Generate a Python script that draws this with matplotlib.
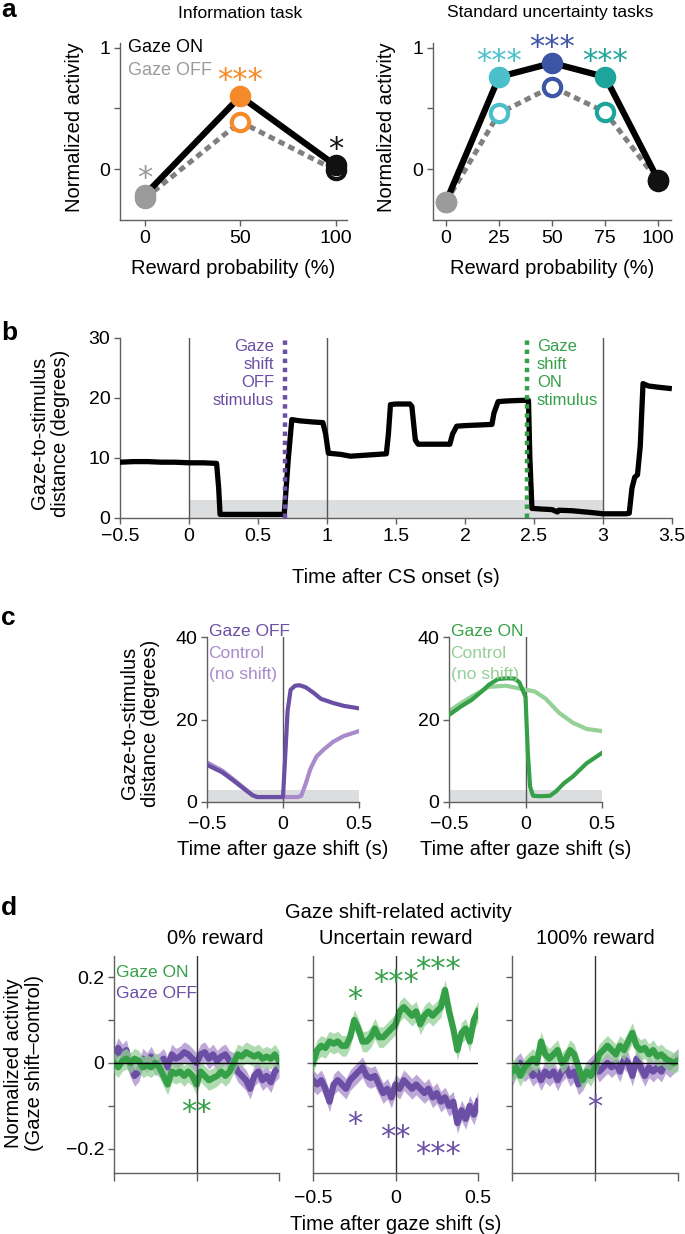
import matplotlib
matplotlib.use('Agg')
import matplotlib.pyplot as plt
from matplotlib.transforms import offset_copy
import numpy as np

plt.rcParams['font.family'] = ['Liberation Sans', 'DejaVu Sans']
plt.rcParams['axes.unicode_minus'] = True

# ---------------- data ----------------
# panel a
info_prob = [0, 50, 100]
info_on = [-0.21, 0.60, 0.03]
info_off = [-0.24, 0.39, -0.01]
info_colors = ['#9b9b9d', '#f58a2a', '#111111']
info_stars = ['*', '***', '*']

std_prob = [0, 25, 50, 75, 100]
std_on = [-0.27, 0.76, 0.875, 0.76, -0.09]
std_off = [-0.27, 0.46, 0.68, 0.47, -0.10]
std_colors = ['#9b9b9d', '#4bbfca', '#3c55a5', '#1ea59b', '#111111']
std_stars = ['', '***', '***', '***', '']

# panel b
cs_time = [-0.5, -0.4, -0.3, -0.2, -0.1, 0.0, 0.1, 0.2, 0.215, 0.225, 0.3, 0.4, 0.5, 0.6, 0.69,
           0.72, 0.745, 0.8, 0.9, 0.97, 0.99, 1.01, 1.1, 1.17, 1.3, 1.43, 1.445, 1.46, 1.5, 1.6,
           1.615, 1.64, 1.66, 1.75, 1.89, 1.91, 1.94, 2.0, 2.1, 2.195, 2.21, 2.24, 2.3, 2.4,
           2.46, 2.47, 2.485, 2.55, 2.63, 2.67, 2.68, 2.78, 2.92, 3.0, 3.17, 3.19, 3.21, 3.23,
           3.25, 3.27, 3.29, 3.33, 3.4, 3.48]
cs_dist = [9.3, 9.4, 9.4, 9.3, 9.3, 9.2, 9.2, 9.1, 5.0, 0.6, 0.6, 0.6, 0.6, 0.6, 0.6,
           10.0, 16.4, 16.2, 16.0, 15.9, 14.0, 10.8, 10.6, 10.3, 10.5, 10.7, 14.0, 18.9, 19.0, 19.0,
           18.6, 13.0, 12.3, 12.3, 12.3, 14.0, 15.3, 15.4, 15.5, 15.6, 17.5, 19.4, 19.5, 19.6,
           19.6, 10.0, 1.6, 1.5, 1.4, 1.0, 1.3, 1.2, 0.9, 0.7, 0.7, 0.8, 5.0, 6.8,
           7.2, 12.0, 22.4, 22.0, 21.8, 21.6]
b_event_times = [0, 1, 3]
gaze_off_time = 0.696
gaze_on_time = 2.45
fix_window = 3.0
fix_window_end = 3.0

# panel c
c_off_t = [-0.5, -0.4, -0.33, -0.25, -0.2, -0.17, -0.1, 0.0, 0.01, 0.03, 0.05, 0.08, 0.11, 0.15,
           0.2, 0.25, 0.33, 0.4, 0.5]
c_off_v = [9.0, 7.2, 5.3, 3.0, 1.6, 1.2, 1.2, 1.2, 8.0, 22.0, 27.2, 28.2, 28.3, 27.8,
           26.5, 25.0, 24.0, 23.3, 22.7]
c_offctl_t = [-0.5, -0.4, -0.33, -0.25, -0.2, -0.17, -0.1, 0.0, 0.1, 0.12, 0.15, 0.18, 0.22,
              0.27, 0.33, 0.4, 0.5]
c_offctl_v = [9.6, 7.6, 5.6, 3.2, 1.7, 1.2, 1.2, 1.2, 1.2, 1.5, 4.5, 8.0, 11.0,
              12.8, 14.6, 16.0, 17.2]
c_on_t = [-0.5, -0.42, -0.35, -0.28, -0.24, -0.18, -0.12, -0.07, -0.04, 0.0, 0.015, 0.03,
          0.05, 0.1, 0.16, 0.2, 0.25, 0.31, 0.4, 0.5]
c_on_v = [21.1, 23.2, 24.8, 27.0, 28.4, 29.8, 30.0, 29.9, 29.0, 25.5, 12.0, 3.7,
          1.5, 1.4, 1.5, 2.6, 4.5, 6.2, 9.4, 11.9]
c_onctl_t = [-0.5, -0.42, -0.35, -0.24, -0.13, -0.05, 0.06, 0.13, 0.22, 0.31, 0.4, 0.5]
c_onctl_v = [22.0, 24.0, 25.6, 27.9, 28.2, 27.6, 26.8, 25.1, 21.6, 19.2, 17.7, 17.2]

# panel d
d_time = np.linspace(-0.5, 0.5, 41)
d_sem = 0.024
d0_on = [0.0, -0.01, 0.005, 0.01, 0.0, 0.01, 0.005, -0.01, -0.005, -0.01, 0.0, -0.01, -0.03,
         -0.05, -0.02, -0.025, -0.02, -0.03, -0.02, -0.03, -0.05, -0.02, -0.03, -0.04, -0.035,
         -0.03, -0.02, -0.03, -0.02, 0.0, 0.02, 0.015, 0.025, 0.02, 0.015, 0.02, 0.01, 0.015,
         0.01, 0.02, 0.005]
d0_off = [0.01, 0.035, 0.02, 0.03, -0.01, -0.03, -0.02, 0.01, 0.0, 0.015, -0.005, 0.0, 0.01,
          -0.01, 0.02, 0.01, 0.015, 0.025, 0.02, 0.01, 0.0, 0.02, 0.025, 0.01, 0.02, 0.005,
          0.015, 0.02, 0.005, 0.0, -0.02, -0.03, -0.04, -0.06, -0.03, -0.02, -0.04, -0.03,
          -0.045, -0.02, -0.01]
dU_on = [0.0, 0.03, 0.04, 0.035, 0.05, 0.045, 0.05, 0.04, 0.04, 0.06, 0.1, 0.08, 0.05, 0.05,
         0.06, 0.08, 0.06, 0.06, 0.07, 0.08, 0.09, 0.12, 0.13, 0.12, 0.11, 0.12, 0.09, 0.11,
         0.12, 0.11, 0.12, 0.13, 0.17, 0.12, 0.08, 0.03, 0.07, 0.08, 0.05, 0.10, 0.12]
dU_off = [-0.04, -0.05, -0.04, -0.06, -0.09, -0.05, -0.04, -0.05, -0.06, -0.04, -0.03, -0.02,
          -0.01, -0.03, -0.035, -0.03, -0.05, -0.07, -0.06, -0.08, -0.05, -0.06, -0.04, -0.05,
          -0.06, -0.05, -0.06, -0.07, -0.06, -0.08, -0.07, -0.09, -0.08, -0.10, -0.09, -0.14,
          -0.11, -0.13, -0.10, -0.12, -0.09]
d100_on = [-0.02, -0.01, -0.03, -0.01, 0.0, 0.01, 0.0, 0.05, 0.02, 0.01, 0.02, 0.03, 0.0,
           0.01, 0.03, 0.02, -0.01, -0.04, -0.02, -0.03, -0.01, 0.02, 0.03, 0.04, 0.03, 0.02,
           0.04, 0.03, 0.05, 0.07, 0.04, 0.03, 0.035, 0.02, 0.03, 0.015, 0.02, 0.01, 0.005,
           0.0, 0.005]
d100_off = [-0.03, -0.01, 0.0, -0.02, -0.01, -0.03, -0.02, -0.04, -0.02, -0.03, -0.02, -0.04,
            -0.02, -0.01, -0.03, -0.02, -0.05, -0.04, -0.02, -0.01, 0.0, -0.02, -0.01, 0.0,
            -0.01, 0.0, -0.02, 0.01, 0.0, -0.03, 0.01, -0.01, -0.03, -0.01, -0.02, -0.01, -0.02,
            0.0, -0.01, 0.0, 0.01]
d_titles = ['0% reward', 'Uncertain reward', '100% reward']
d0_on_stars = [('**', 0.0, -0.092)]
dU_on_stars = [('*', -0.25, 0.17), ('***', 0.0, 0.21), ('***', 0.26, 0.24)]
dU_off_stars = [('*', -0.25, -0.12), ('**', 0.0, -0.15), ('***', 0.26, -0.19)]
d100_off_stars = [('*', 0.0, -0.08)]

# ---------------- style ----------------
GREEN = '#36a048'
PURPLE = '#6a4fa5'
LGREEN = '#95d096'
LPURPLE = '#a98bcb'
SPINE = '#606060'
TICK_FS = 14
LAB_FS = 14.5
STAR_FS = 22

W, H = 685, 1234
fig = plt.figure(figsize=(W / 100, H / 100), dpi=100)


def add_ax(l, t, r, b):
    ax = fig.add_axes([l / W, 1 - b / H, (r - l) / W, (b - t) / H])
    for s in ['top', 'right']:
        ax.spines[s].set_visible(False)
    for s in ['left', 'bottom']:
        ax.spines[s].set_color(SPINE)
        ax.spines[s].set_linewidth(1.0)
    ax.tick_params(direction='out', length=4, width=1, color=SPINE,
                   labelsize=TICK_FS, pad=3)
    ax.patch.set_alpha(0)
    return ax


def ftext(x, y, s, **kw):
    fig.text(x / W, 1 - y / H, s, **kw)


def star_text(ax, x, y, s, color, fs=STAR_FS):
    # place the asterisk glyph centre (not the text box centre) at (x, y)
    tr = offset_copy(ax.transData, fig=fig, x=0, y=-0.6 * fs, units='points')
    ax.text(x, y, s, color=color, fontsize=fs, ha='center', va='baseline',
            family='DejaVu Sans', transform=tr, zorder=6, clip_on=False)


# ---------------- panel a ----------------
def panel_a(ax, prob, on, off, colors, stars, xticks):
    ax.plot(prob, off, color='#808080', lw=3.6, ls=(0, (1.3, 0.9)), zorder=2,
            solid_capstyle='butt', dash_capstyle='butt')
    ax.plot(prob, on, color='black', lw=4.5, zorder=3)
    for p, v, c in zip(prob, off, colors):
        ax.plot(p, v, 'o', ms=12.5, mfc='white', mec=c, mew=3, zorder=4)
    for p, v, c in zip(prob, on, colors):
        ax.plot(p, v, 'o', ms=14.5, mfc=c, mec=c, zorder=5)
    for p, v, c, s in zip(prob, on, colors, stars):
        if s:
            star_text(ax, p, v + 0.21, s, c)
    ax.set_ylim(-0.42, 1.04)
    ax.set_yticks([0, 0.5, 1])
    ax.set_yticklabels(['0', '', '1'])
    ax.set_xticks(xticks)
    ax.set_xticklabels([str(x) for x in xticks])
    ax.set_xlabel('Reward probability (%)', fontsize=LAB_FS, labelpad=9)


ax_a1 = add_ax(120, 43, 347, 220)
panel_a(ax_a1, info_prob, info_on, info_off, info_colors, info_stars, [0, 50, 100])
ax_a1.set_xlim(-13.2, 106)
ax_a1.text(-9, 1.0, 'Gaze ON', color='black', fontsize=13, va='center', ha='left')
ax_a1.text(-9, 0.81, 'Gaze OFF', color='#9b9b9d', fontsize=13, va='center', ha='left')

ax_a2 = add_ax(433, 43, 671, 220)
panel_a(ax_a2, std_prob, std_on, std_off, std_colors, std_stars, [0, 25, 50, 75, 100])
ax_a2.set_xlim(-6.1, 106)

ftext(240, 13, 'Information task', fontsize=12.5, ha='center', va='center')
ftext(550, 13, 'Standard uncertainty tasks', fontsize=12.5, ha='center', va='center')
ftext(75, 127, 'Normalized activity', fontsize=LAB_FS, rotation=90, ha='center', va='center')
ftext(386, 127, 'Normalized activity', fontsize=LAB_FS, rotation=90, ha='center', va='center')

# ---------------- panel b ----------------
ax_b = add_ax(120, 338, 672, 518)
ax_b.set_xlim(-0.5, 3.5)
ax_b.set_ylim(0, 30)
ax_b.fill_between([0, fix_window_end], 0, fix_window, color='#dcdddf', lw=0, zorder=0)
for t in b_event_times:
    ax_b.axvline(t, color='#555555', lw=1.0, zorder=1)
ax_b.plot(cs_time, cs_dist, color='black', lw=3.8, zorder=3, solid_joinstyle='round')
ax_b.plot([gaze_off_time, gaze_off_time], [0, 30], color=PURPLE, lw=3.2,
          ls=(0, (1, 1.05)), zorder=4)
ax_b.plot([gaze_on_time, gaze_on_time], [0, 30], color=GREEN, lw=3.2,
          ls=(0, (1, 1.05)), zorder=4)
ax_b.text(gaze_off_time - 0.08, 29.8, 'Gaze\nshift\nOFF\nstimulus', color=PURPLE,
          fontsize=12, ha='right', va='top', linespacing=1.25)
ax_b.text(gaze_on_time + 0.07, 29.8, 'Gaze\nshift\nON\nstimulus', color=GREEN,
          fontsize=12, ha='left', va='top', linespacing=1.25)
ax_b.set_yticks([0, 10, 20, 30])
bx = [-0.5, 0, 0.5, 1, 1.5, 2, 2.5, 3, 3.5]
ax_b.set_xticks(bx)
ax_b.set_xticklabels(['\u22120.5', '0', '0.5', '1', '1.5', '2', '2.5', '3', '3.5'])
ax_b.set_xlabel('Time after CS onset (s)', fontsize=LAB_FS, labelpad=17)
ftext(50, 433, 'Gaze-to-stimulus\ndistance (degrees)', fontsize=LAB_FS, rotation=90,
      ha='center', va='center', linespacing=1.15)


# ---------------- panel c ----------------
def panel_c(ax, shift_t, shift_v, ctl_t, ctl_v, dark, light, label):
    ax.set_xlim(-0.5, 0.5)
    ax.set_ylim(0, 40)
    ax.fill_between([-0.5, 0.5], 0, fix_window, color='#dcdddf', lw=0, zorder=0)
    ax.axvline(0, color='#555555', lw=1.0, zorder=1)
    ax.plot(ctl_t, ctl_v, color=light, lw=3.0, zorder=2)
    ax.plot(shift_t, shift_v, color=dark, lw=3.0, zorder=3)
    ax.text(-0.49, 41.3, label, color=dark, fontsize=12.5, ha='left', va='center')
    ax.text(-0.49, 36.0, 'Control', color=light, fontsize=12.5, ha='left', va='center')
    ax.text(-0.49, 30.9, '(no shift)', color=light, fontsize=12.5, ha='left', va='center')
    ax.set_yticks([0, 20, 40])
    ax.set_xticks([-0.5, 0, 0.5])
    ax.set_xticklabels(['\u22120.5', '0', '0.5'])
    ax.tick_params(axis='x', pad=6)
    ax.set_xlabel('Time after gaze shift (s)', fontsize=LAB_FS, labelpad=5)


ax_c1 = add_ax(207, 637, 359, 802)
panel_c(ax_c1, c_off_t, c_off_v, c_offctl_t, c_offctl_v, PURPLE, LPURPLE, 'Gaze OFF')
ax_c2 = add_ax(449, 637, 602, 802)
panel_c(ax_c2, c_on_t, c_on_v, c_onctl_t, c_onctl_v, GREEN, LGREEN, 'Gaze ON')
ftext(140, 723, 'Gaze-to-stimulus\ndistance (degrees)', fontsize=LAB_FS, rotation=90,
      ha='center', va='center', linespacing=1.15)

# ---------------- panel d ----------------
d_boxes = [(114, 279), (313, 478), (512, 678)]
d_on_all = [d0_on, dU_on, d100_on]
d_off_all = [d0_off, dU_off, d100_off]
d_stars_all = [
    [(s, x, y, GREEN) for s, x, y in d0_on_stars],
    [(s, x, y, GREEN) for s, x, y in dU_on_stars] + [(s, x, y, PURPLE) for s, x, y in dU_off_stars],
    [(s, x, y, PURPLE) for s, x, y in d100_off_stars],
]
d_title_x = [215, 396, 595]
for i, ((l, r), on, off, stars) in enumerate(zip(d_boxes, d_on_all, d_off_all, d_stars_all)):
    ax = add_ax(l, 956, r, 1173)
    ax.set_xlim(-0.5, 0.5)
    ax.set_ylim(-0.256, 0.249)
    on = np.array(on)
    off = np.array(off)
    ax.fill_between(d_time, off - d_sem, off + d_sem, color=LPURPLE, alpha=0.75, lw=0, zorder=1)
    ax.plot(d_time, off, color=PURPLE, lw=4.5, zorder=2)
    ax.fill_between(d_time, on - d_sem, on + d_sem, color=LGREEN, alpha=0.75, lw=0, zorder=3)
    ax.plot(d_time, on, color=GREEN, lw=4.5, zorder=4)
    ax.axhline(0, color='black', lw=1.0, zorder=5)
    ax.axvline(0, color='#333333', lw=1.0, zorder=5)
    for s, x, y, c in stars:
        star_text(ax, x, y, s, c)
    ax.set_yticks([-0.2, -0.1, 0, 0.1, 0.2])
    ax.set_xticks([-0.5, 0, 0.5])
    if i == 0:
        ax.set_yticklabels(['\u22120.2', '', '0', '', '0.2'])
        ax.text(-0.49, 0.21, 'Gaze ON', color=GREEN, fontsize=12.5, ha='left', va='center')
        ax.text(-0.49, 0.162, 'Gaze OFF', color=PURPLE, fontsize=12.5, ha='left', va='center')
    else:
        ax.set_yticklabels([])
    if i == 1:
        ax.set_xticklabels(['\u22120.5', '0', '0.5'])
        ax.set_xlabel('Time after gaze shift (s)', fontsize=LAB_FS, labelpad=6)
    else:
        ax.set_xticklabels([])
    ax.tick_params(axis='x', length=6, pad=6)
    ftext(d_title_x[i], 938, d_titles[i], fontsize=LAB_FS, ha='center', va='center')

ftext(398, 912, 'Gaze shift-related activity', fontsize=LAB_FS, ha='center', va='center')
ftext(24, 1063, 'Normalized activity\n(Gaze shift\u2013control)', fontsize=LAB_FS, rotation=90,
      ha='center', va='center', linespacing=1.15)

# panel letters
for lab, y in [('a', 17), ('b', 340), ('c', 625), ('d', 915)]:
    ftext(1, y, lab, fontsize=19, fontweight='bold', ha='left', va='baseline')

fig.savefig('out.png', dpi=100)
